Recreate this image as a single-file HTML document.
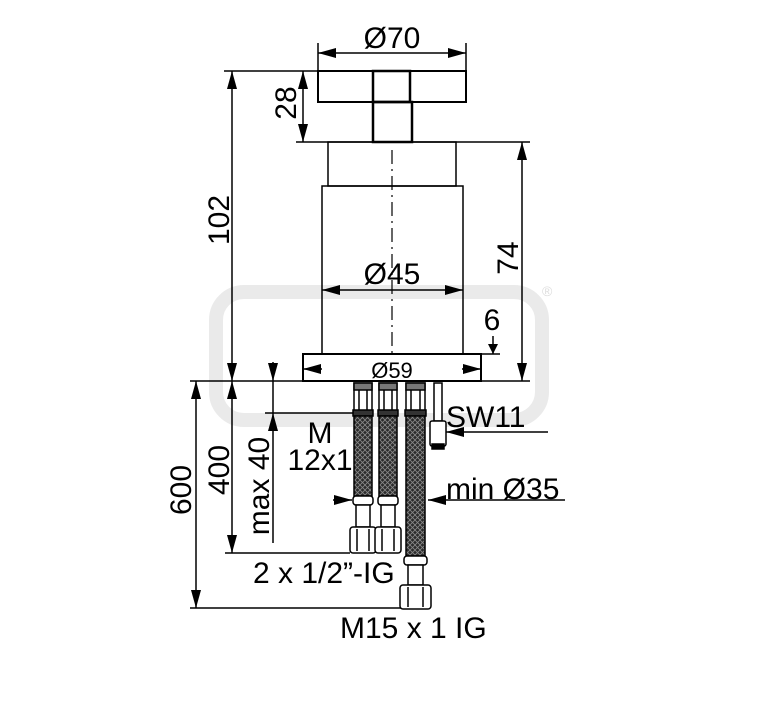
<!DOCTYPE html>
<html><head><meta charset="utf-8"><style>
html,body{margin:0;padding:0;background:#fff}
svg{display:block}
text{font-family:"Liberation Sans",sans-serif;font-size:30px;fill:#000}
</style></head><body>
<svg width="767" height="709" viewBox="0 0 767 709" xmlns="http://www.w3.org/2000/svg">
<defs>
<marker id="a" viewBox="0 0 10 10" refX="10" refY="5" markerWidth="10" markerHeight="12" markerUnits="userSpaceOnUse" orient="auto-start-reverse" ><path d="M0,0 L10,5 L0,10z" fill="#000"/></marker>
<marker id="b" viewBox="0 0 18 10" refX="18" refY="5" markerWidth="18" markerHeight="12" markerUnits="userSpaceOnUse" orient="auto-start-reverse"><path d="M0,0 L18,5 L0,10z" fill="#000"/></marker>
<pattern id="br" width="5" height="5" patternUnits="userSpaceOnUse">
<rect width="5" height="5" fill="#2a2a2a"/><path d="M0,0 L5,5 M5,0 L0,5" stroke="#888" stroke-width="0.8"/>
</pattern>
</defs>
<rect x="216" y="292" width="326" height="128" rx="28" fill="none" stroke="#eaeaea" stroke-width="14"/>
<text x="542" y="296" style="font-size:14px;fill:#ddd">®</text>

<g stroke="#000" fill="none" stroke-width="1.5">
<rect x="318" y="71" width="148" height="31" stroke-width="2"/>
<rect x="373" y="71" width="37" height="31" stroke-width="2.5"/>
<rect x="373" y="102" width="39" height="40" stroke-width="2.5"/>
<rect x="328" y="142" width="128" height="44"/>
<rect x="322" y="186" width="141" height="168"/>
<rect x="303" y="354" width="178" height="27" stroke-width="2"/>
<line x1="392" y1="150" x2="392" y2="354" stroke-width="1.2" stroke-dasharray="14,5,2,5"/>
<line x1="296" y1="142" x2="530" y2="142"/>
<line x1="190" y1="381" x2="530" y2="381"/>
<line x1="224" y1="71" x2="318" y2="71"/>
<line x1="318" y1="43" x2="318" y2="71"/>
<line x1="466" y1="43" x2="466" y2="71"/>
<line x1="463" y1="354" x2="500" y2="354"/>
<line x1="318" y1="53" x2="466" y2="53" marker-start="url(#b)" marker-end="url(#b)"/>
<line x1="232" y1="71" x2="232" y2="381" marker-start="url(#b)" marker-end="url(#b)"/>
<line x1="303" y1="71" x2="303" y2="142" marker-start="url(#b)" marker-end="url(#b)"/>
<line x1="522" y1="142" x2="522" y2="381" marker-start="url(#b)" marker-end="url(#b)"/>
<line x1="322" y1="290" x2="463" y2="290" marker-start="url(#b)" marker-end="url(#b)"/>
<line x1="493" y1="336" x2="493" y2="354" marker-end="url(#a)"/>
<line x1="322" y1="369" x2="303" y2="369" marker-end="url(#b)"/>
<line x1="462" y1="369" x2="481" y2="369" marker-end="url(#b)"/>
<line x1="196" y1="381" x2="196" y2="608" marker-start="url(#b)" marker-end="url(#b)"/>
<line x1="190" y1="608" x2="410" y2="608"/>
<line x1="232" y1="381" x2="232" y2="553" marker-start="url(#b)" marker-end="url(#b)"/>
<line x1="225" y1="553" x2="350" y2="553"/>
<line x1="273" y1="362" x2="273" y2="381" marker-end="url(#b)"/>
<line x1="273" y1="381" x2="273" y2="413"/>
<line x1="265" y1="413" x2="355" y2="413"/>
<line x1="273" y1="543" x2="273" y2="413" marker-end="url(#b)"/>
<line x1="548" y1="432" x2="446" y2="432" marker-end="url(#b)"/>
<line x1="565" y1="500" x2="428" y2="500" marker-end="url(#b)"/>
<line x1="333" y1="500" x2="352" y2="500" marker-end="url(#b)"/>
</g>

<g stroke="#000" stroke-width="1.5">
<g id="h1">
<rect x="354" y="383" width="18" height="30" fill="#fff"/>
<line x1="359" y1="385" x2="359" y2="411"/><line x1="367" y1="385" x2="367" y2="411"/>
<rect x="354" y="383" width="18" height="7" fill="#777"/>
<rect x="353" y="410" width="20" height="6" fill="#333"/>
<rect x="354" y="416" width="18" height="80" fill="url(#br)"/>
<rect x="353" y="496" width="20" height="9" rx="3" fill="#fff"/>
<rect x="356" y="505" width="14" height="22" fill="#fff"/>
<rect x="350" y="527" width="26" height="26" rx="3" fill="#fff"/>
<line x1="357" y1="529" x2="357" y2="551"/><line x1="369" y1="529" x2="369" y2="551"/>
</g>
<use href="#h1" x="25"/>
<rect x="406" y="383" width="19" height="30" fill="#fff"/>
<line x1="411" y1="385" x2="411" y2="411"/><line x1="420" y1="385" x2="420" y2="411"/>
<rect x="406" y="383" width="19" height="7" fill="#777"/>
<rect x="405" y="410" width="21" height="6" fill="#333"/>
<rect x="406" y="416" width="19" height="140" fill="url(#br)"/>
<rect x="404" y="556" width="23" height="9" rx="3" fill="#fff"/>
<rect x="408" y="565" width="15" height="20" fill="#fff"/>
<rect x="400" y="585" width="31" height="24" rx="3" fill="#fff"/>
<line x1="408" y1="587" x2="408" y2="607"/><line x1="423" y1="587" x2="423" y2="607"/>
<rect x="434" y="383" width="8" height="38" fill="#fff"/>
<rect x="430" y="421" width="16" height="25" rx="2" fill="#fff"/>
<rect x="432" y="444" width="12" height="5" fill="#000"/>
</g>

<text x="392" y="48" text-anchor="middle">Ø70</text>
<text transform="translate(229,220) rotate(-90)" text-anchor="middle">102</text>
<text transform="translate(296,103) rotate(-90)" text-anchor="middle">28</text>
<text transform="translate(518,258) rotate(-90)" text-anchor="middle">74</text>
<text x="392" y="284" text-anchor="middle">Ø45</text>
<text x="492" y="330" text-anchor="middle">6</text>
<text x="392" y="378" text-anchor="middle" style="font-size:22px">Ø59</text>
<text transform="translate(191,490) rotate(-90)" text-anchor="middle">600</text>
<text transform="translate(229,470) rotate(-90)" text-anchor="middle">400</text>
<text transform="translate(269,486) rotate(-90)" text-anchor="middle">max 40</text>
<text x="320" y="443" text-anchor="middle">M</text>
<text x="320" y="470" text-anchor="middle">12x1</text>
<text x="446" y="427">SW11</text>
<text x="446" y="499">min Ø35</text>
<text x="253" y="583">2 x 1/2”-IG</text>
<text x="340" y="638">M15 x 1 IG</text>
</svg>
</body></html>
